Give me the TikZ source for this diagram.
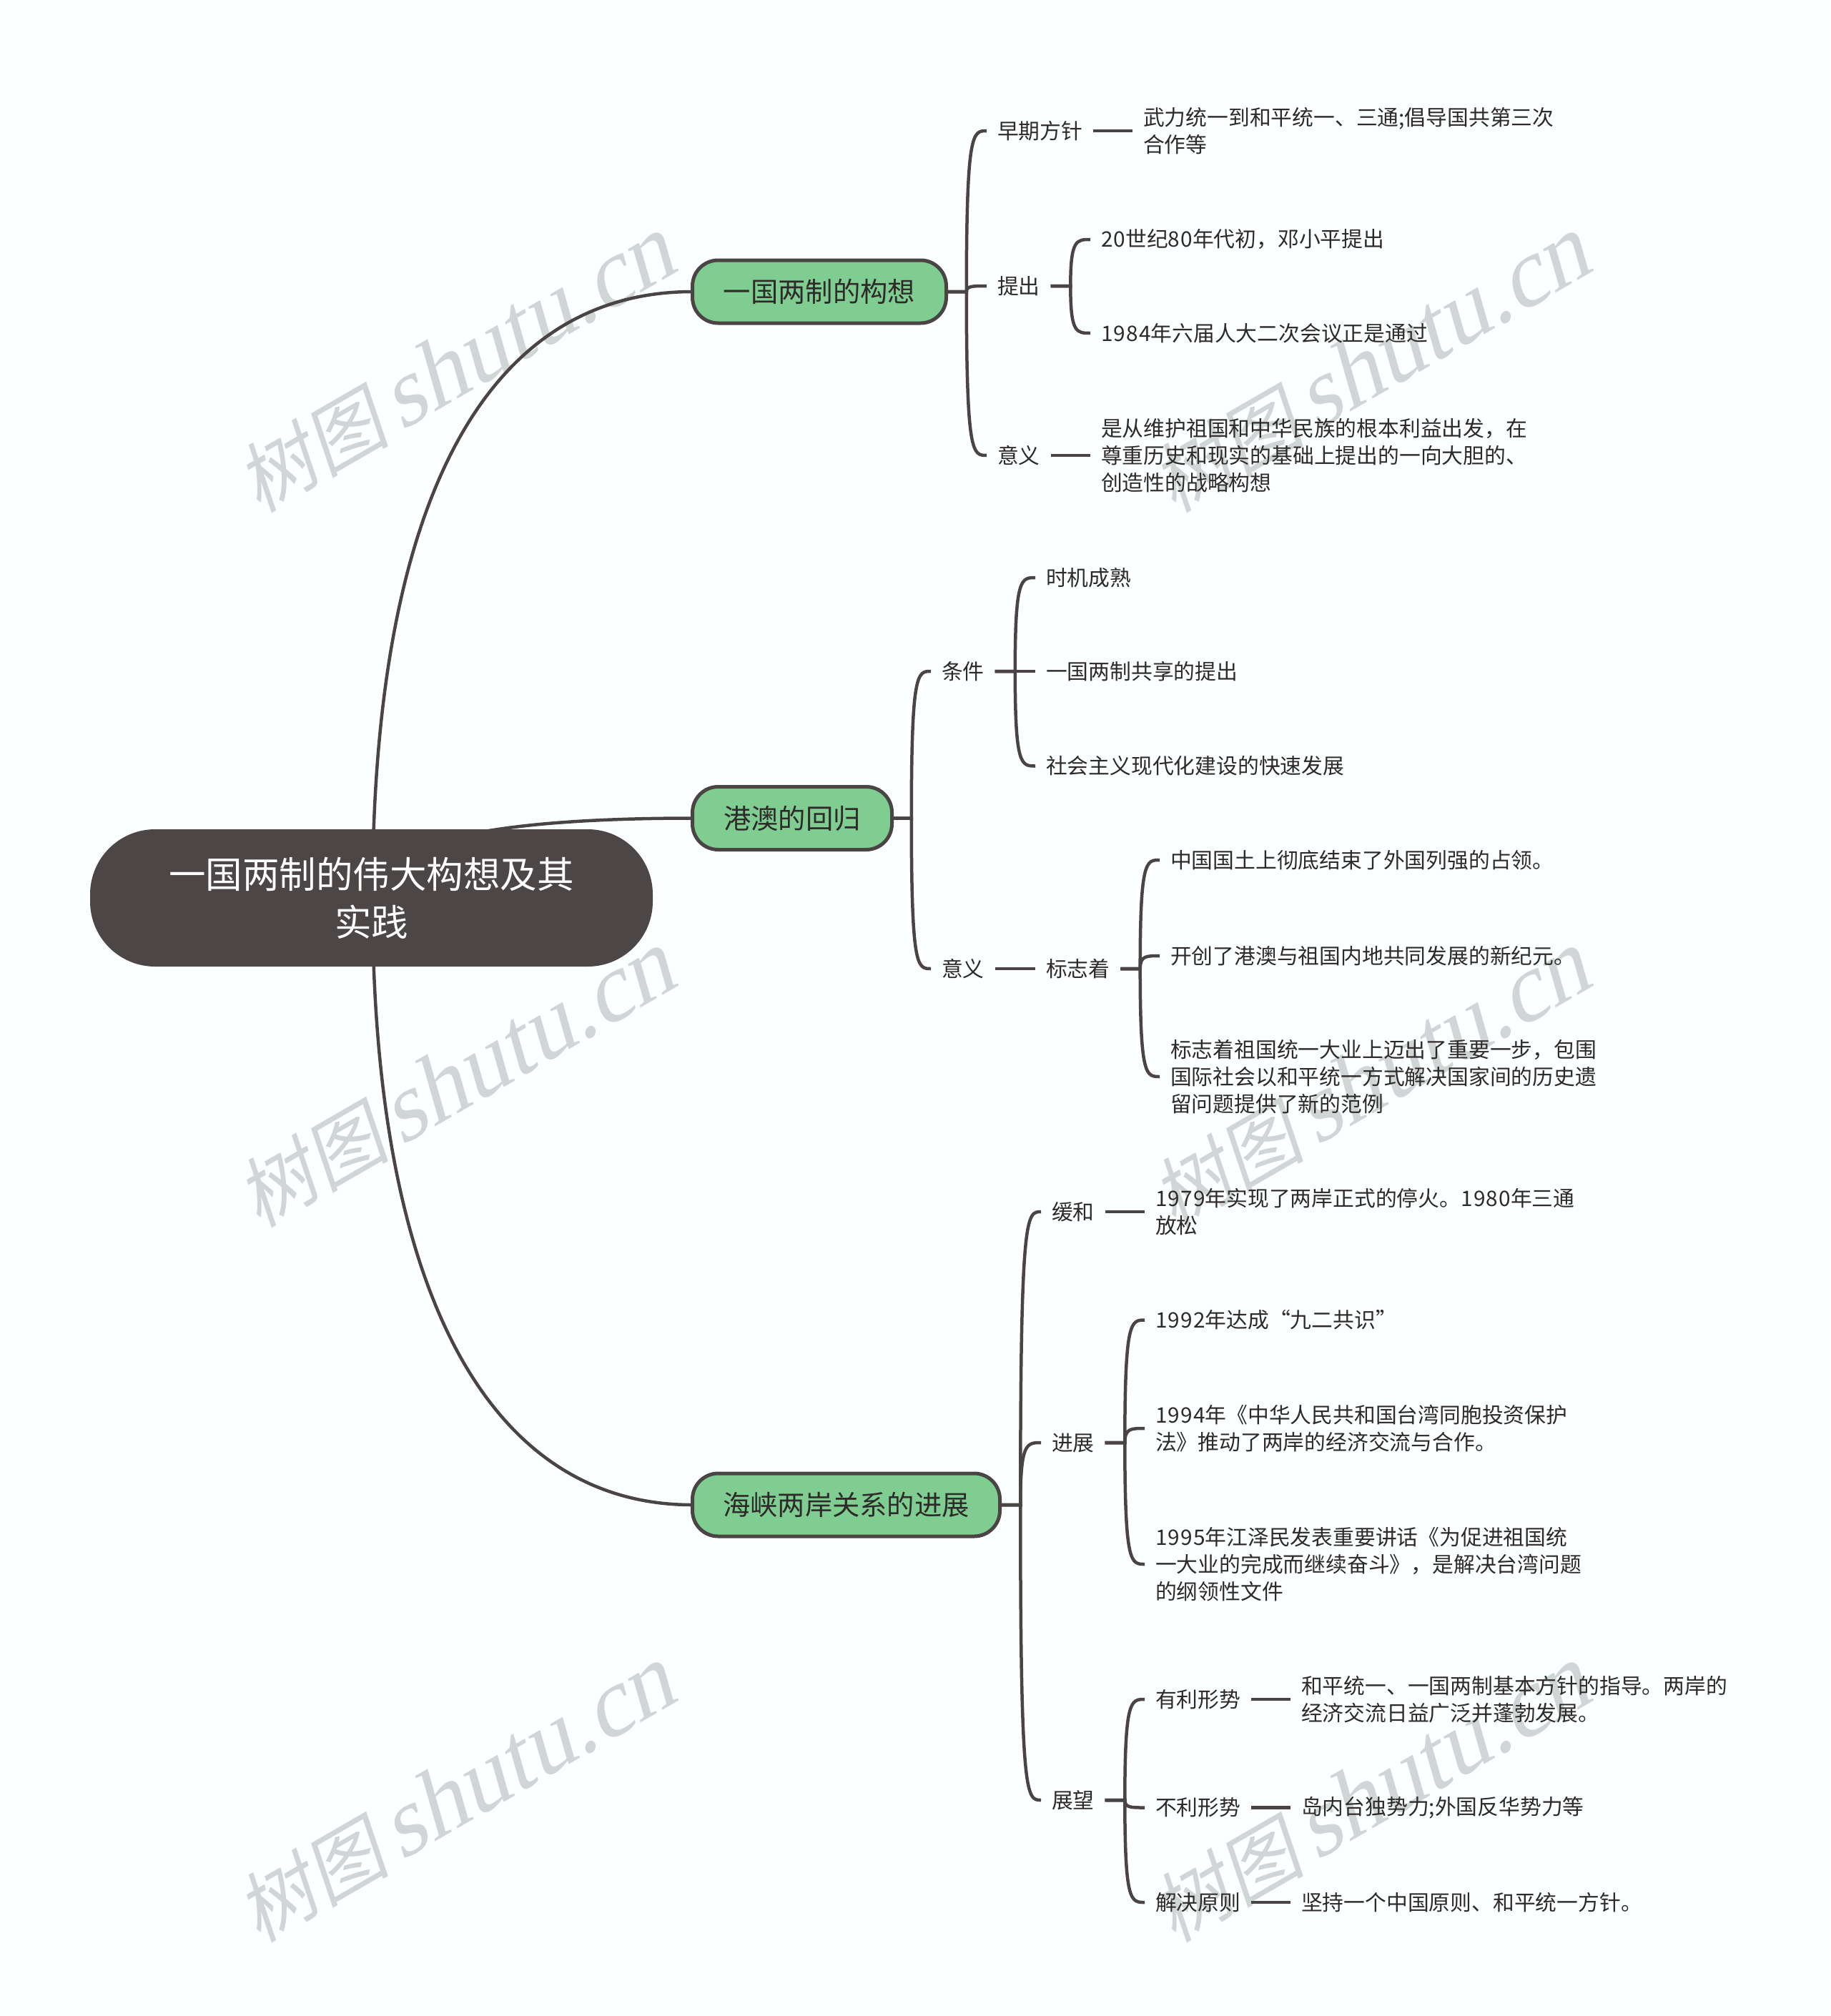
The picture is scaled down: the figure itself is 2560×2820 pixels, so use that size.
\documentclass[tikz,border=0pt]{standalone}
\usepackage{fontspec}
\usetikzlibrary{calc}
\setmainfont{Noto Sans CJK SC}
\newfontfamily\wmcjk[FakeSlant=0.2]{Noto Sans CJK SC}
\newfontfamily\wmlat[FakeSlant=0.25]{Liberation Serif}
\newfontfamily\dgt[LetterSpace=4]{Noto Sans CJK SC}
\definecolor{bgc}{HTML}{FBFFFF}
\definecolor{linec}{HTML}{4A4444}
\definecolor{rootc}{HTML}{4D4646}
\definecolor{topicc}{HTML}{7FCD91}
\definecolor{textc}{HTML}{2E2A2A}
\definecolor{wmc}{HTML}{D0D5D5}
\pgfdeclarelayer{wmlayer}
\pgfdeclarelayer{connlayer}
\pgfsetlayers{wmlayer,connlayer,main}
\tikzset{
  x=1pt,y=-1pt,
  rootbox/.style={draw=rootc,fill=rootc,line width=2pt,rounded corners=90pt,minimum width=785pt,minimum height=190pt,outer sep=0pt,inner sep=0pt,text=white,align=center,font={\fontsize{51.5}{67}\selectfont}},
  topicbox/.style={draw=linec,fill=topicc,line width=5pt,rounded corners=36pt,minimum height=88pt,outer sep=0pt,inner sep=0pt,text=textc,font={\fontsize{38.3}{46}\selectfont}},
  txt/.style={anchor=west,xshift=-15pt,inner xsep=15pt,inner ysep=0pt,outer sep=0pt,text=textc,align=left,font={\fontsize{29.8}{38}\selectfont}},
  conn/.style={draw=linec,line width=4.5pt},
  wmark/.style={rotate=30,text=wmc,inner sep=0pt}
}
\newcommand{\brk}[2]{%
  \draw[conn] let \p1=(#1.east), \p2=(#2.west), \n1={(\x1+\x2)/2}, \n2={\n1+0.3*(\x2-\n1)} in
    (\p1) -- (\n1,\y1) .. controls (\n1,\y2) and (\n2,\y2) .. (\p2);}
\newcommand{\wm}[3]{\node[wmark] (#1) at (#2,#3) {\fontsize{107}{107}\selectfont\wmcjk 树图\hspace{16pt}\fontsize{134}{134}\selectfont\wmlat shutu.cn};}
\newcommand{\dg}[1]{{\dgt #1}}
\begin{document}
\begin{tikzpicture}
\useasboundingbox (0,0) rectangle (2560,2820);
\begin{pgfonlayer}{wmlayer}
  \fill[bgc] (0,0) rectangle (2560,2820);
  \wm{wa}{636}{512}\wm{wb}{636}{1512}\wm{wc}{636}{2512}
  \wm{wd}{1916}{512}\wm{we}{1916}{1512}\wm{wf}{1916}{2512}
\end{pgfonlayer}

\node[rootbox] (root) at (519.5,1256) {一国两制的伟大构想及其\\实践};
\node[topicbox,minimum width=355pt] (t1) at (1146,408) {一国两制的构想};
\node[topicbox,minimum width=279pt] (t2) at (1108,1144.5) {港澳的回归};
\node[topicbox,minimum width=430pt] (t3) at (1183.5,2105) {海峡两岸关系的进展};

% branch 1
\node[txt] (a1) at (1395,183) {早期方针};
\node[txt] (a2) at (1395,400) {提出};
\node[txt] (a3) at (1395,637) {意义};
\node[txt] (a11) at (1599,183) {武力统一到和平统一、三通;倡导国共第三次\\合作等};
\node[txt] (a21) at (1540,335) {\dg{20}世纪\dg{80}年代初，邓小平提出};
\node[txt] (a22) at (1540,466) {\dg{1984}年六届人大二次会议正是通过};
\node[txt] (a31) at (1540,637) {是从维护祖国和中华民族的根本利益出发，在\\尊重历史和现实的基础上提出的一向大胆的、\\创造性的战略构想};

% branch 2
\node[txt] (b1) at (1317,939) {条件};
\node[txt] (b2) at (1317,1355) {意义};
\node[txt] (b11) at (1463,808) {时机成熟};
\node[txt] (b12) at (1463,939) {一国两制共享的提出};
\node[txt] (b13) at (1463,1071.5) {社会主义现代化建设的快速发展};
\node[txt] (b21) at (1463,1355) {标志着};
\node[txt] (b211) at (1637,1203) {中国国土上彻底结束了外国列强的占领。};
\node[txt] (b212) at (1637,1337) {开创了港澳与祖国内地共同发展的新纪元。};
\node[txt] (b213) at (1637,1506) {标志着祖国统一大业上迈出了重要一步，包围\\国际社会以和平统一方式解决国家间的历史遗\\留问题提供了新的范例};

% branch 3
\node[txt] (c1) at (1471,1695) {缓和};
\node[txt] (c2) at (1471,2018) {进展};
\node[txt] (c3) at (1471,2518) {展望};
\node[txt] (c11) at (1616,1695) {\dg{1979}年实现了两岸正式的停火。\dg{1980}年三通\\放松};
\node[txt] (c21) at (1616,1846.5) {\dg{1992}年达成“九二共识”};
\node[txt] (c22) at (1616,1998) {\dg{1994}年《中华人民共和国台湾同胞投资保护\\法》推动了两岸的经济交流与合作。};
\node[txt] (c23) at (1616,2188) {\dg{1995}年江泽民发表重要讲话《为促进祖国统\\一大业的完成而继续奋斗》，是解决台湾问题\\的纲领性文件};
\node[txt] (c31) at (1616,2377) {有利形势};
\node[txt] (c32) at (1616,2528.5) {不利形势};
\node[txt] (c33) at (1616,2661) {解决原则};
\node[txt] (c311) at (1820,2377) {和平统一、一国两制基本方针的指导。两岸的\\经济交流日益广泛并蓬勃发展。};
\node[txt] (c321) at (1820,2528.5) {岛内台独势力;外国反华势力等};
\node[txt] (c331) at (1820,2661) {坚持一个中国原则、和平统一方针。};

\begin{pgfonlayer}{connlayer}
  \coordinate (rs) at (521,1256);
  \draw[conn] (rs) .. controls (521,700) and (680,408) .. (t1.west);
  \draw[conn] (rs) .. controls (521,1170) and (720,1144.5) .. (t2.west);
  \draw[conn] (rs) .. controls (521,1800) and (680,2105) .. (t3.west);
  \brk{t1}{a1}\brk{t1}{a2}\brk{t1}{a3}
  \brk{a1}{a11}\brk{a2}{a21}\brk{a2}{a22}\brk{a3}{a31}
  \brk{t2}{b1}\brk{t2}{b2}
  \brk{b1}{b11}\brk{b1}{b12}\brk{b1}{b13}\brk{b2}{b21}
  \brk{b21}{b211}\brk{b21}{b212}\brk{b21}{b213}
  \brk{t3}{c1}\brk{t3}{c2}\brk{t3}{c3}
  \brk{c1}{c11}\brk{c2}{c21}\brk{c2}{c22}\brk{c2}{c23}
  \brk{c3}{c31}\brk{c3}{c32}\brk{c3}{c33}
  \brk{c31}{c311}\brk{c32}{c321}\brk{c33}{c331}
\end{pgfonlayer}
\end{tikzpicture}
\end{document}
